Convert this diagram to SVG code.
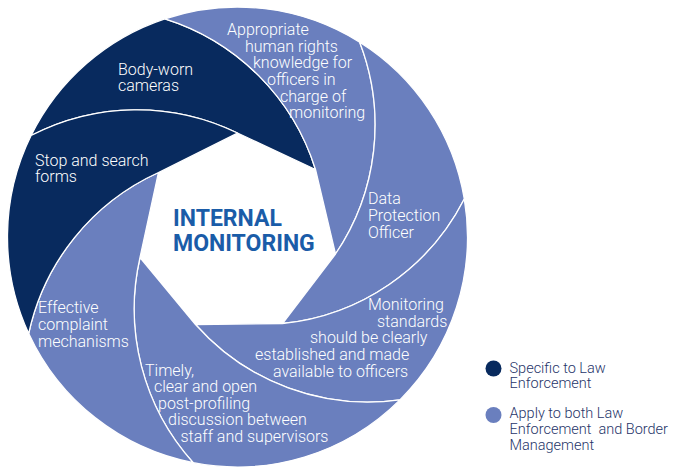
<svg xmlns="http://www.w3.org/2000/svg" width="679" height="469" viewBox="0 0 679 469">
<style>
.dark{fill:#082a5e}
.light{fill:#6a7fbe}
.blade{stroke:#ffffff;stroke-width:1.3;stroke-linejoin:round}
.lbl{font-family:Roboto,"Liberation Sans",sans-serif;font-size:16px;font-weight:300;fill:#ffffff}
.title{font-family:Roboto,"Liberation Sans",sans-serif;font-size:23px;font-weight:bold;fill:#1a5ca8}
.leg{font-family:Roboto,"Liberation Sans",sans-serif;font-size:14.5px;font-weight:300;fill:#1f3569}
</style>
<rect width="679" height="469" fill="#ffffff"/>
<g id="connectors"></g>
<g id="body-worn-cameras">
<path class="blade dark" d="M237.5,133 L315.5,169.5 A230,230 0 0 0 164.9,18.8 A230,230 0 0 0 31.1,135.5 A230,230 0 0 1 237.5,133 Z"/>
<text class="lbl" x="118" y="75">Body-worn</text>
<text class="lbl" x="118" y="91">cameras</text>
</g>
<g id="human-rights-knowledge">
<path class="blade light" d="M315.5,169.5 L335.5,254 A230,230 0 0 0 359.7,42.2 A230,230 0 0 0 164.9,18.8 A230,230 0 0 1 315.5,169.5 Z"/>
<text class="lbl" x="227" y="35">Appropriate</text>
<text class="lbl" x="245" y="51.7">human rights</text>
<text class="lbl" x="253" y="68.3">knowledge for</text>
<text class="lbl" x="267" y="85">officers in</text>
<text class="lbl" x="280" y="101.7">charge of</text>
<text class="lbl" x="289" y="118.3">monitoring</text>
</g>
<g id="data-protection-officer">
<path class="blade light" d="M335.5,254 L282.5,323.5 A230,230 0 0 0 464.3,199 A230,230 0 0 0 359.7,42.2 A230,230 0 0 1 335.5,254 Z"/>
<text class="lbl" x="368" y="204.3">Data</text>
<text class="lbl" x="368" y="221">Protection</text>
<text class="lbl" x="368" y="237.7">Officer</text>
</g>
<g id="monitoring-standards">
<path class="blade light" d="M282.5,323.5 L195.5,324.5 A230,230 0 0 0 399.9,399.9 A230,230 0 0 0 464.3,199 A230,230 0 0 1 282.5,323.5 Z"/>
<text class="lbl" x="368" y="310">Monitoring</text>
<text class="lbl" x="377" y="326.7">standards</text>
<text class="lbl" x="310" y="343.3">should be clearly</text>
<text class="lbl" x="255" y="360">established and made</text>
<text class="lbl" x="273" y="376.7">available to officers</text>
</g>
<g id="post-profiling-discussion">
<path class="blade light" d="M195.5,324.5 L140,257.5 A230,230 0 0 0 193.2,462.7 A230,230 0 0 0 399.9,399.9 A230,230 0 0 1 195.5,324.5 Z"/>
<text class="lbl" x="145" y="375.7">Timely,</text>
<text class="lbl" x="154" y="392.3">clear and open</text>
<text class="lbl" x="158" y="409">post-profiling</text>
<text class="lbl" x="168" y="425">discussion between</text>
<text class="lbl" x="180.5" y="441.7">staff and supervisors</text>
</g>
<g id="complaint-mechanisms">
<path class="blade light" d="M140,257.5 L158.5,172.5 A230,230 0 0 0 28.7,333.5 A230,230 0 0 0 193.2,462.7 A230,230 0 0 1 140,257.5 Z"/>
<text class="lbl" x="38" y="313.3">Effective</text>
<text class="lbl" x="38" y="330">complaint</text>
<text class="lbl" x="38" y="347">mechanisms</text>
</g>
<g id="stop-and-search-forms">
<path class="blade dark" d="M158.5,172.5 L237.5,133 A230,230 0 0 0 31.1,135.5 A230,230 0 0 0 28.7,333.5 A230,230 0 0 1 158.5,172.5 Z"/>
<text class="lbl" x="35" y="165.5">Stop and search</text>
<text class="lbl" x="35" y="182">forms</text>
</g>
<g id="internal-monitoring">
<text class="title" x="173" y="226">INTERNAL</text>
<text class="title" x="173" y="251">MONITORING</text>
</g>
<g id="legend">
<g id="legend-law-enforcement">
<circle class="dark" cx="493.5" cy="368.5" r="8"/>
<text class="leg" x="509.5" y="373.3">Specific to Law</text>
<text class="leg" x="509.5" y="388.3">Enforcement</text>
</g>
<g id="legend-both">
<circle class="light" cx="493.5" cy="415" r="8"/>
<text class="leg" x="509.5" y="418.3">Apply to both Law</text>
<text class="leg" x="509.5" y="434" xml:space="preserve">Enforcement  and Border</text>
<text class="leg" x="509.5" y="450">Management</text>
</g>
</g>
</svg>
